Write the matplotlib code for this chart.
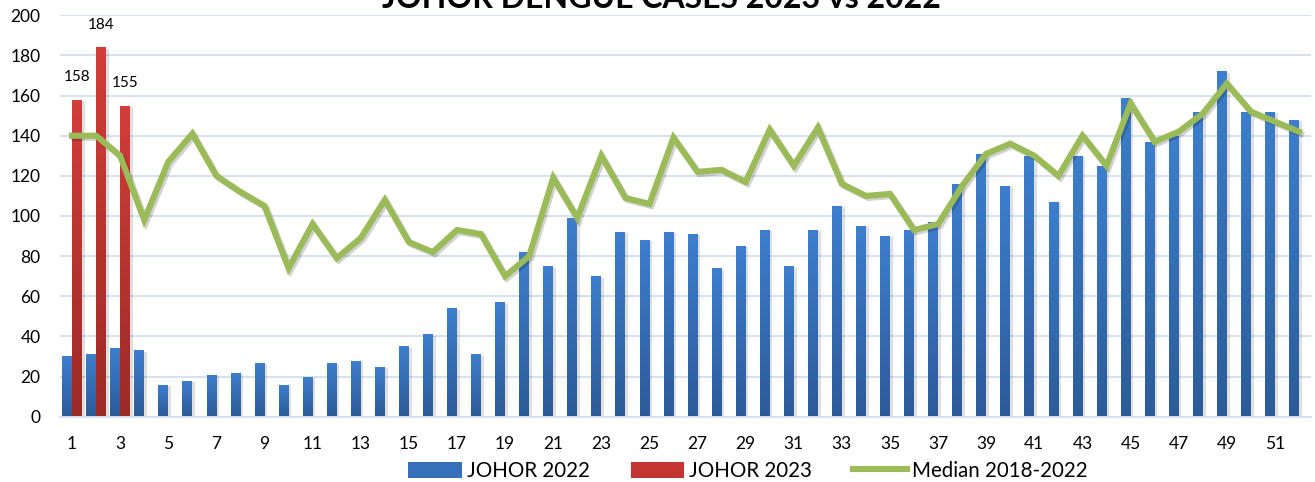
import numpy as np
import matplotlib
matplotlib.use("Agg")
import matplotlib.pyplot as plt
import matplotlib.patheffects as pe
from matplotlib.colors import LinearSegmentedColormap
from matplotlib.patches import Patch
from matplotlib.lines import Line2D

weeks = list(range(1, 53))
cases_2022 = [30, 31, 34, 33, 16, 18, 21, 22, 27, 16, 20, 27, 28, 25, 35, 41, 54, 31, 57, 82,
              75, 99, 70, 92, 88, 92, 91, 74, 85, 93, 75, 93, 105, 95, 90, 93, 97, 116, 131, 115,
              130, 107, 130, 125, 159, 137, 140, 152, 172, 152, 152, 148]
weeks_2023 = [1, 2, 3]
cases_2023 = [158, 184, 155]
median_18_22 = [140, 140, 130, 98, 127, 141, 120, 112, 105, 74, 96, 79, 89, 108, 87, 82, 93, 91, 70, 80,
                119, 99, 130, 109, 106, 139, 122, 123, 117, 143, 125, 144, 116, 110, 111, 93, 96, 115, 131, 136,
                130, 120, 140, 125, 156, 137, 142, 151, 166, 152, 147, 142]
xtick_labels = [str(w) for w in range(1, 53, 2)]
title = "JOHOR DENGUE CASES 2023 vs 2022"
labels = ["JOHOR 2022", "JOHOR 2023", "Median 2018-2022"]

plt.rcParams['font.family'] = ['Lato', 'DejaVu Sans']

W, H = 1315, 482
fig = plt.figure(figsize=(W / 100, H / 100), dpi=100)
ax = fig.add_axes([60 / W, 1 - 416.7 / H, (1311 - 60) / W, (416.7 - 15.3) / H])

blue_cmap = LinearSegmentedColormap.from_list("b", ["#2C5B98", "#3E7ECD"])
red_cmap = LinearSegmentedColormap.from_list("r", ["#9C2A26", "#D23E39"])

bw = 0.41
x = np.array(weeks, dtype=float)
x23 = np.array(weeks_2023, dtype=float)
shadow = [pe.SimplePatchShadow(offset=(2, -1), shadow_rgbFace='#000000', alpha=0.12), pe.Normal()]
b22 = ax.bar(x - 0.205, cases_2022, width=bw, color="#3670BB", zorder=2, label=labels[0])
b23 = ax.bar(x23 + 0.205, cases_2023, width=bw, color="#C33531", zorder=2, label=labels[1])

grad = np.linspace(0, 1, 256).reshape(-1, 1)
for bars, cmap in ((b22, blue_cmap), (b23, red_cmap)):
    for p in bars:
        p.set_path_effects(shadow)
        x0, y0, w, h = p.get_x(), p.get_y(), p.get_width(), p.get_height()
        im = ax.imshow(grad, cmap=cmap, origin='lower', aspect='auto',
                       extent=(x0, x0 + w, y0, y0 + h), zorder=2.5)
        im.set_clip_path(p)

ax.plot(x, median_18_22, color="#9BBB59", lw=4.4, zorder=4, solid_joinstyle='miter',
        path_effects=[pe.SimpleLineShadow(offset=(1.5, -1.5), shadow_color='#000000', alpha=0.18),
                      pe.Normal()], label=labels[2])

for p, v in zip(b23, cases_2023):
    ax.annotate(str(v), (p.get_x() + p.get_width() / 2, v), xytext=(0, 16),
                textcoords='offset points', ha='center', va='center', fontsize=11, color='#000000')

ax.set_xlim(0.5, 52.5)
ax.set_ylim(0, 200)
ax.set_yticks(range(0, 201, 20))
ax.set_xticks(range(1, 53, 2))
ax.set_xticklabels(xtick_labels)
ax.tick_params(axis='both', length=0, labelsize=12.5, colors='#000000')
ax.tick_params(axis='y', pad=14)
ax.tick_params(axis='x', pad=14)
ax.grid(axis='y', color='#D5E1F1', lw=1.4, zorder=0)
ax.set_axisbelow(True)
for s in ['top', 'right', 'left']:
    ax.spines[s].set_visible(False)
ax.spines['bottom'].set_color('#D5E1F1')
ax.spines['bottom'].set_linewidth(1.4)

handles = [Patch(facecolor="#3670BB"), Patch(facecolor="#C33531"),
           Line2D([], [], color="#9BBB59", lw=4.4)]
fig.legend(handles, labels, loc='center', bbox_to_anchor=(748 / W, 1 - 471 / H), ncol=3,
           frameon=False, fontsize=14.8, handlelength=2.6, handleheight=0.8,
           handletextpad=0.25, columnspacing=2.0)

fig.text(661 / W, 1 - 8 / H, title, ha='center', va='baseline', fontsize=23,
         fontweight='bold', color='#000000')

fig.savefig("out.png", dpi=100)
